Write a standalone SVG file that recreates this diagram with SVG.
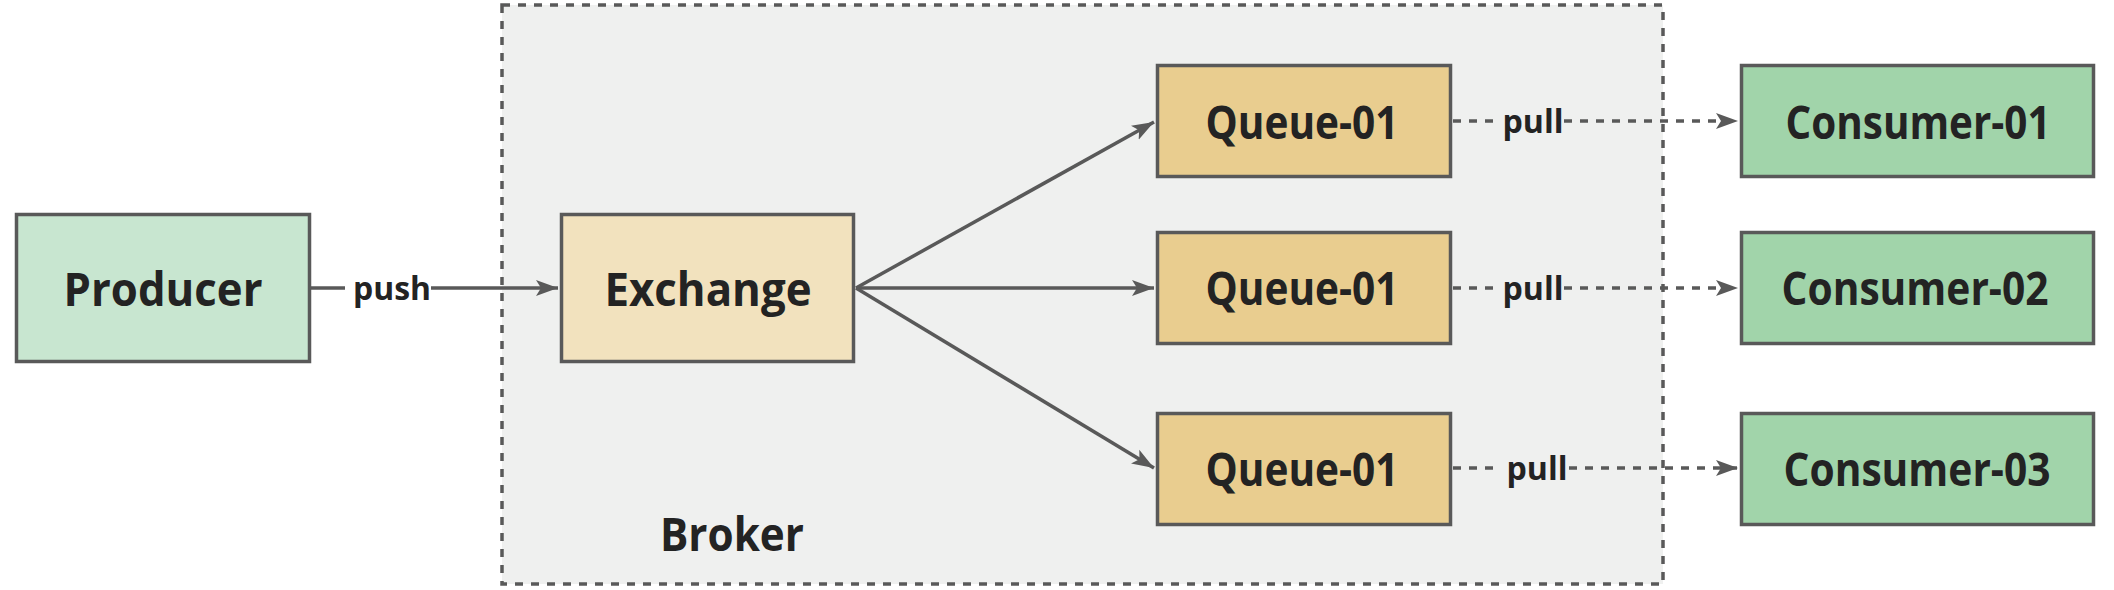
<svg xmlns="http://www.w3.org/2000/svg" width="2114" height="590" viewBox="0 0 2114 590">
<style>
.box{stroke:#595959;stroke-width:3.5}
.lbl{font-family:"Open Sans","Noto Sans","Liberation Sans",sans-serif;font-weight:700;fill:#232323;text-anchor:middle}
.big{font-size:46px}
.small{font-size:33px}
.edge{stroke:#595959;stroke-width:3.5;fill:none}
.dash{stroke-dasharray:8 8}
</style>
<defs>
<marker id="arr" markerUnits="userSpaceOnUse" markerWidth="24" markerHeight="18" refX="22" refY="8" orient="auto" viewBox="0 0 24 16">
<path d="M0,0 L22,8 L0,16 L5,8 z" fill="#595959"/>
</marker>
</defs>
<rect width="2114" height="590" fill="#ffffff"/>
<g id="broker">
<rect x="502" y="5" width="1161" height="579" fill="#eff0ef" stroke="#595959" stroke-width="3.5" stroke-dasharray="8 8"/>
<text class="lbl big" x="732" y="551" textLength="144" lengthAdjust="spacingAndGlyphs">Broker</text>
</g>
<g id="connectors">
<line class="edge" x1="311" y1="288" x2="345" y2="288"/>
<line class="edge" x1="431" y1="288" x2="558" y2="288" marker-end="url(#arr)"/>
<text class="lbl small" x="392" y="300" textLength="78" lengthAdjust="spacingAndGlyphs">push</text>
<line class="edge" x1="856" y1="288" x2="1154" y2="122" marker-end="url(#arr)"/>
<line class="edge" x1="856" y1="288" x2="1154" y2="288" marker-end="url(#arr)"/>
<line class="edge" x1="856" y1="288" x2="1154" y2="468" marker-end="url(#arr)"/>
<line class="edge dash" x1="1453" y1="121" x2="1496" y2="121"/>
<line class="edge dash" x1="1564" y1="121" x2="1738" y2="121" marker-end="url(#arr)"/>
<text class="lbl small" x="1533" y="133" textLength="61" lengthAdjust="spacingAndGlyphs">pull</text>
<line class="edge dash" x1="1453" y1="288" x2="1496" y2="288"/>
<line class="edge dash" x1="1564" y1="288" x2="1738" y2="288" marker-end="url(#arr)"/>
<text class="lbl small" x="1533" y="300" textLength="61" lengthAdjust="spacingAndGlyphs">pull</text>
<line class="edge dash" x1="1453" y1="468" x2="1500" y2="468"/>
<line class="edge dash" x1="1569" y1="468" x2="1738" y2="468" marker-end="url(#arr)"/>
<text class="lbl small" x="1537" y="480" textLength="61" lengthAdjust="spacingAndGlyphs">pull</text>
</g>
<g id="producer">
<rect class="box" x="16.5" y="214.5" width="293" height="147" fill="#c8e6d0"/>
<text class="lbl big" x="163" y="306" textLength="199" lengthAdjust="spacingAndGlyphs">Producer</text>
</g>
<g id="exchange">
<rect class="box" x="561.5" y="214.5" width="292" height="147" fill="#f2e2be"/>
<text class="lbl big" x="708" y="306" textLength="207" lengthAdjust="spacingAndGlyphs">Exchange</text>
</g>
<g id="queue1">
<rect class="box" x="1157.5" y="65.5" width="293" height="111" fill="#e9cd8f"/>
<text class="lbl big" x="1302" y="139" textLength="193" lengthAdjust="spacingAndGlyphs">Queue-01</text>
</g>
<g id="queue2">
<rect class="box" x="1157.5" y="232.5" width="293" height="111" fill="#e9cd8f"/>
<text class="lbl big" x="1302" y="305" textLength="193" lengthAdjust="spacingAndGlyphs">Queue-01</text>
</g>
<g id="queue3">
<rect class="box" x="1157.5" y="413.5" width="293" height="111" fill="#e9cd8f"/>
<text class="lbl big" x="1302" y="486" textLength="193" lengthAdjust="spacingAndGlyphs">Queue-01</text>
</g>
<g id="consumer1">
<rect class="box" x="1741.5" y="65.5" width="352" height="111" fill="#a1d4aa"/>
<text class="lbl big" x="1918" y="139" textLength="265" lengthAdjust="spacingAndGlyphs">Consumer-01</text>
</g>
<g id="consumer2">
<rect class="box" x="1741.5" y="232.5" width="352" height="111" fill="#a1d4aa"/>
<text class="lbl big" x="1915" y="305" textLength="267" lengthAdjust="spacingAndGlyphs">Consumer-02</text>
</g>
<g id="consumer3">
<rect class="box" x="1741.5" y="413.5" width="352" height="111" fill="#a1d4aa"/>
<text class="lbl big" x="1917" y="486" textLength="267" lengthAdjust="spacingAndGlyphs">Consumer-03</text>
</g>
</svg>
